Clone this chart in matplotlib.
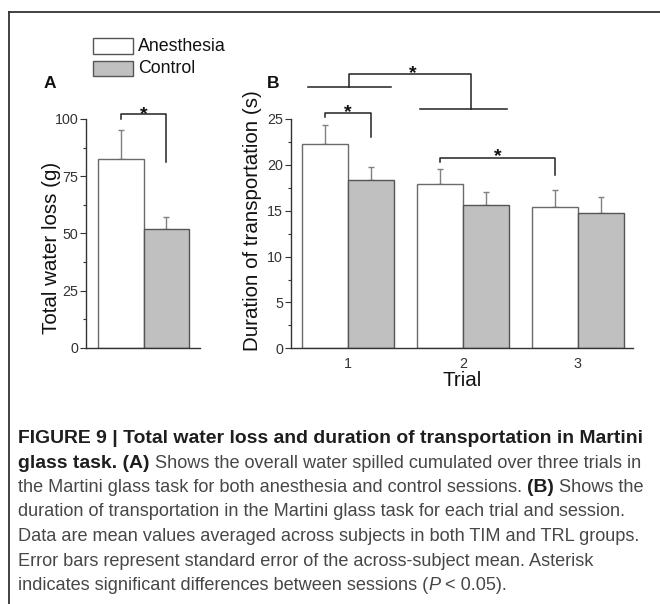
import matplotlib
matplotlib.use("Agg")
import matplotlib.pyplot as plt
import matplotlib.transforms as mtransforms
from matplotlib.patches import Rectangle
from matplotlib.lines import Line2D
from matplotlib.ticker import MultipleLocator
import numpy as np

plt.rcParams['font.family'] = ['Liberation Sans', 'DejaVu Sans']

# ---------------- data ----------------
sessions = ['Anesthesia', 'Control']
water_loss = [82.4, 52.1]
water_loss_err = [12.8, 5.0]

trials = [1, 2, 3]
duration_anesthesia = [22.3, 17.9, 15.4]
duration_anesthesia_err = [2.1, 1.6, 1.9]
duration_control = [18.4, 15.6, 14.8]
duration_control_err = [1.4, 1.4, 1.7]

a_yticks = [0, 25, 50, 75, 100]
b_yticks = [0, 5, 10, 15, 20, 25]

caption_lines = [
    [("FIGURE 9 | Total water loss and duration of transportation in Martini", "b")],
    [("glass task. (A)", "b"), (" Shows the overall water spilled cumulated over three trials in", "n")],
    [("the Martini glass task for both anesthesia and control sessions. ", "n"), ("(B)", "b"), (" Shows the", "n")],
    [("duration of transportation in the Martini glass task for each trial and session.", "n")],
    [("Data are mean values averaged across subjects in both TIM and TRL groups.", "n")],
    [("Error bars represent standard error of the across-subject mean. Asterisk", "n")],
    [("indicates significant differences between sessions (", "n"), ("P", "i"), (" < 0.05).", "n")],
]

# ---------------- styles ----------------
W, H = 660, 604
fill_colors = ['white', '#c0c0c0']
edge_colors = ['#6a6a6a', '#555555']
err_color = '#808080'
axis_color = '#333333'
tick_color = '#333333'
label_size = 14.8
tick_size = 10.3

fig = plt.figure(figsize=(W / 100, H / 100), dpi=100)


def fx(x):
    return x / W


def fy(y):
    return 1 - y / H


def style_axes(ax):
    for s in ['top', 'right']:
        ax.spines[s].set_visible(False)
    for s in ['left', 'bottom']:
        ax.spines[s].set_color(axis_color)
        ax.spines[s].set_linewidth(1.0)
    ax.tick_params(axis='y', which='major', direction='out', length=4, width=0.8,
                   colors=tick_color, labelsize=tick_size, pad=1.5)
    ax.tick_params(axis='y', which='minor', direction='out', length=2, width=0.8,
                   colors=tick_color)
    ax.tick_params(axis='x', which='both', length=0, labelsize=tick_size,
                   colors=tick_color, pad=6)


def star(ax, x, y):
    tr = mtransforms.offset_copy(ax.transData, fig=fig, y=-4.6, units='points')
    ax.text(x, y, '*', transform=tr, ha='center', va='center', fontsize=14,
            fontweight='bold', color='#111111', clip_on=False)


def seg(ax, xs, ys):
    ax.add_line(Line2D(xs, ys, color='#222222', lw=1.1, clip_on=False))


# ---------------- panel A ----------------
axA = fig.add_axes([fx(86), fy(348), fx(200) - fx(86), fy(119) - fy(348)])
xa = np.arange(len(sessions))
axA.bar(xa, water_loss, width=1.0, color=fill_colors, edgecolor=edge_colors,
        linewidth=1.0, zorder=2)
axA.errorbar(xa, water_loss, yerr=[np.zeros(len(xa)), water_loss_err], fmt='none',
             ecolor=err_color, elinewidth=1.0, capsize=2, capthick=1.0, zorder=1)
axA.set_xlim(-0.764, 1.742)
axA.set_ylim(0, 100)
axA.set_yticks(a_yticks)
axA.yaxis.set_minor_locator(MultipleLocator(12.5))
axA.set_xticks([])
style_axes(axA)
# significance bracket
seg(axA, [0, 0, 1, 1], [100, 102, 102, 81.3])
star(axA, 0.5, 104.8)

# ---------------- panel B ----------------
axB = fig.add_axes([fx(290.7), fy(348.3), fx(633) - fx(290.7), fy(119) - fy(348.3)])
xt = np.array(trials, dtype=float)
bw = 0.4
axB.bar(xt - bw / 2, duration_anesthesia, width=bw, color=fill_colors[0],
        edgecolor=edge_colors[0], linewidth=1.0, zorder=2)
axB.bar(xt + bw / 2, duration_control, width=bw, color=fill_colors[1],
        edgecolor=edge_colors[1], linewidth=1.0, zorder=2)
axB.errorbar(xt - bw / 2, duration_anesthesia,
             yerr=[np.zeros(3), duration_anesthesia_err], fmt='none',
             ecolor=err_color, elinewidth=1.0, capsize=2, capthick=1.0, zorder=1)
axB.errorbar(xt + bw / 2, duration_control,
             yerr=[np.zeros(3), duration_control_err], fmt='none',
             ecolor=err_color, elinewidth=1.0, capsize=2, capthick=1.0, zorder=1)
axB.set_xlim(0.5, 3.48)
axB.set_ylim(0, 25)
axB.set_yticks(b_yticks)
axB.yaxis.set_minor_locator(MultipleLocator(2.5))
axB.set_xticks(trials)
axB.set_xticklabels([str(t) for t in trials])
style_axes(axB)
axB.set_xlabel('Trial', fontsize=label_size, labelpad=0, color='#111111')

# brackets in B
seg(axB, [0.8, 0.8, 1.2, 1.2], [25.2, 25.65, 25.65, 23.0])
star(axB, 1.0, 26.4)
seg(axB, [1.8, 1.8, 2.8, 2.8], [20.27, 20.78, 20.78, 18.92])
star(axB, 2.3, 21.55)
seg(axB, [0.65, 1.37], [28.5, 28.5])
seg(axB, [1.63, 2.38], [26.1, 26.1])
seg(axB, [1.01, 1.01, 2.07, 2.07], [28.5, 29.9, 29.9, 26.1])
star(axB, 1.56, 30.63)

# ---------------- labels ----------------
fig.text(fx(52), fy(248), 'Total water loss (g)', rotation=90, ha='center', va='center',
         fontsize=label_size, color='#111111')
fig.text(fx(252), fy(221), 'Duration of transportation (s)', rotation=90, ha='center',
         va='center', fontsize=label_size, color='#111111')
fig.text(fx(50), fy(83.5), 'A', ha='center', va='center', fontsize=12.5,
         fontweight='bold', color='#111111')
fig.text(fx(273), fy(83.5), 'B', ha='center', va='center', fontsize=12.5,
         fontweight='bold', color='#111111')

# legend
leg_y = [(38.3, 54.0), (60.7, 76.0)]
for i, name in enumerate(sessions):
    y0, y1 = leg_y[i]
    fig.add_artist(Rectangle((fx(92.7), fy(y1)), fx(133.3) - fx(92.7), fy(y0) - fy(y1),
                             transform=fig.transFigure, facecolor=fill_colors[i],
                             edgecolor='#555555', linewidth=1.0))
    fig.text(fx(138.3), fy((y0 + y1) / 2), name, ha='left', va='center', fontsize=12.8,
             color='#111111')

# frame
fig.add_artist(Line2D([fx(9), 1.0], [fy(12), fy(12)], transform=fig.transFigure,
                      color='#333333', lw=1.3))
fig.add_artist(Line2D([fx(9), fx(9)], [fy(12), 0.0], transform=fig.transFigure,
                      color='#333333', lw=1.3))

# ---------------- caption ----------------
renderer = fig.canvas.get_renderer()
cap_family = ['Liberation Sans', 'DejaVu Sans']


def make_props(style, size):
    p = dict(fontsize=size, family=cap_family, color='#474747')
    if style == 'b':
        p.update(fontweight='bold', color='#1e1e1e')
    if style == 'i':
        p.update(style='italic')
    return p


def text_width(s, style, size):
    t = fig.text(0, 0, s, **make_props(style, size))
    w = t.get_window_extent(renderer).width
    t.remove()
    return w


# choose sizes so the lines span like the original (~624 px)
base = 12.0
w5 = text_width(caption_lines[4][0][0], 'n', base)
cap_size = base * 624.0 / w5
w1 = text_width(caption_lines[0][0][0], 'b', base)
bold_size = base * 622.0 / w1


def seg_width(s, style, size):
    # width including leading / trailing spaces
    return text_width('x' + s + 'x', style, size) - text_width('xx', style, size)


x0 = 18.0
for i, line in enumerate(caption_lines):
    yb = 590 - 24.5 * (len(caption_lines) - 1 - i)
    x = x0
    for s, style in line:
        size = bold_size if style == 'b' else cap_size
        fig.text(fx(x), fy(yb), s, ha='left', va='baseline', **make_props(style, size))
        x += seg_width(s, style, size)

fig.savefig('out.png', dpi=100)
